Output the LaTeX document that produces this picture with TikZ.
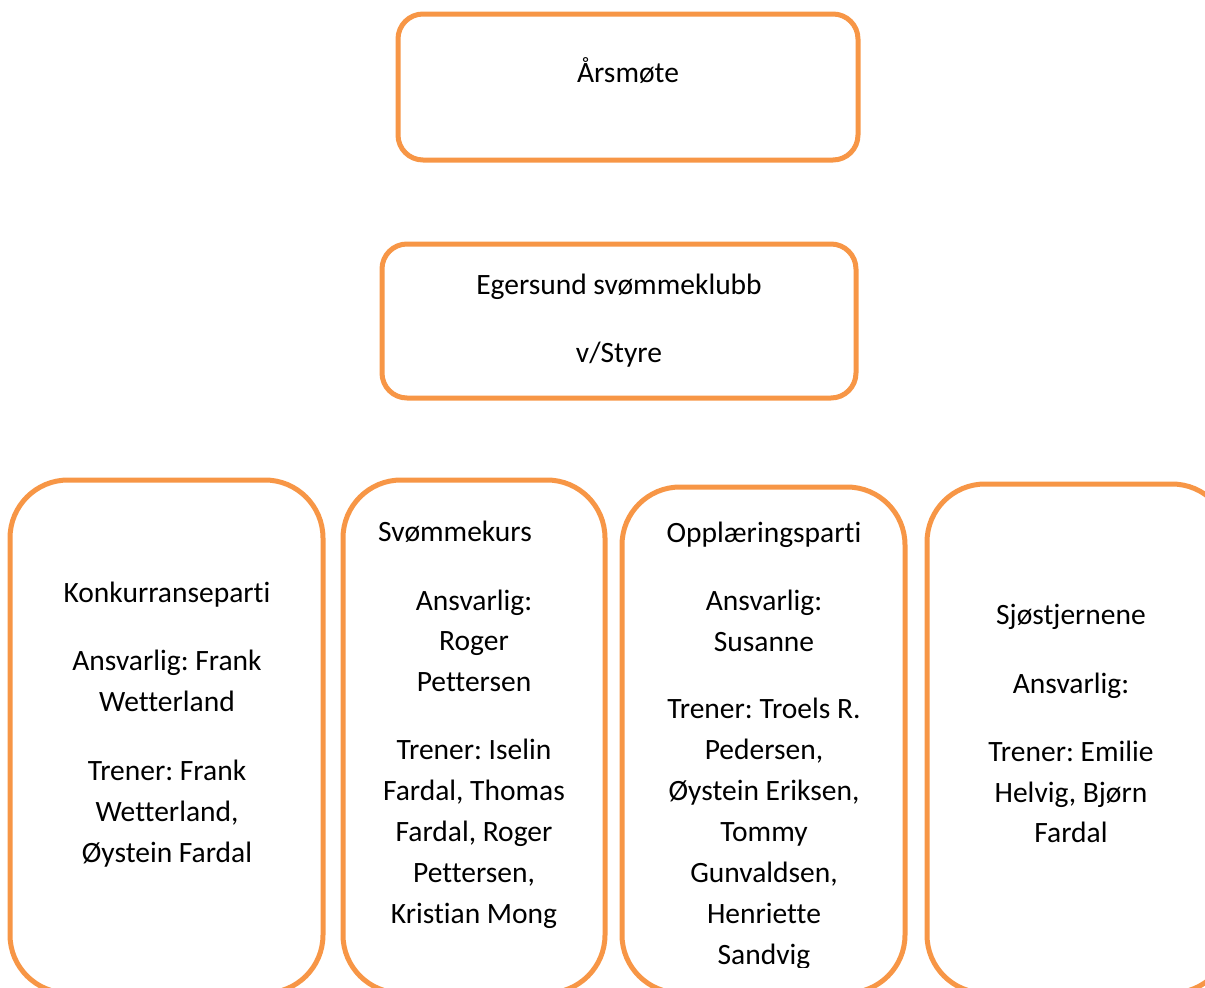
\documentclass[tikz,border=0pt]{standalone}
\usepackage{fontspec}
\setmainfont{Carlito}[Ligatures={NoCommon}]
\frenchspacing
\definecolor{boxorange}{HTML}{F79646}
\begin{document}
\begin{tikzpicture}[x=1pt,y=-1pt,
  box/.style={draw=boxorange,line width=5pt,fill=white,inner sep=0pt,outer sep=0pt},
  txt/.style={anchor=base,inner sep=0pt,font=\fontsize{29.5}{41}\selectfont,text=black}]
\useasboundingbox (0,0) rectangle (1205,988);
\clip (0,0) rectangle (1205,988);
% boxes
\node[box,rounded corners=25pt,minimum width=460pt,minimum height=146pt] (arsmote) at (628,87) {};
\node[box,rounded corners=25pt,minimum width=474pt,minimum height=154pt] (klubb) at (619,321) {};
\node[box,rounded corners=58pt,minimum width=313pt,minimum height=513pt] (konk) at (166.5,736.5) {};
\node[box,rounded corners=58pt,minimum width=262pt,minimum height=513pt] (kurs) at (474,736.5) {};
\node[box,rounded corners=58pt,minimum width=283pt,minimum height=506pt] (oppl) at (763.5,740) {};
\node[box,rounded corners=58pt,minimum width=303pt,minimum height=509pt] (sjo) at (1078.5,738.5) {};
% texts
\node[txt] (ta) at (628,82) {Årsmøte};
\node[txt] (tb1) at (619,294) {Egersund svømmeklubb};
\node[txt] (tb2) at (619,362) {v/Styre};
% Konkurranseparti
\node[txt] (k1) at (167,602) {Konkurranseparti};
\node[txt] (k2) at (167,670) {Ansvarlig: Frank};
\node[txt] (k3) at (167,711) {Wetterland};
\node[txt] (k4) at (167,780) {Trener: Frank};
\node[txt] (k5) at (167,821) {Wetterland,};
\node[txt] (k6) at (167,862) {Øystein Fardal};
% Svømmekurs
\node[txt] (s1) at (455,541) {Svømmekurs};
\node[txt] (s2) at (474,610) {Ansvarlig:};
\node[txt] (s3) at (474,650) {Roger};
\node[txt] (s4) at (474,691) {Pettersen};
\node[txt] (s5) at (474,759) {Trener: Iselin};
\node[txt] (s6) at (474,800) {Fardal, Thomas};
\node[txt] (s7) at (474,841) {Fardal, Roger};
\node[txt] (s8) at (474,882) {Pettersen,};
\node[txt] (s9) at (474,923) {Kristian Mong};
% Opplæringsparti
\node[txt] (o1) at (764,542) {Opplæringsparti};
\node[txt] (o2) at (764,610) {Ansvarlig:};
\node[txt] (o3) at (764,651) {Susanne};
\node[txt] (o4) at (764,718) {Trener: Troels R.};
\node[txt] (o5) at (764,759) {Pedersen,};
\node[txt] (o6) at (764,800) {Øystein Eriksen,};
\node[txt] (o7) at (764,841) {Tommy};
\node[txt] (o8) at (764,882) {Gunvaldsen,};
\node[txt] (o9) at (764,923) {Henriette};
\begin{scope}
\clip (640,900) rectangle (890,967);
\node[txt] (o10) at (764,964) {Sandvig};
\end{scope}
% Sjøstjernene
\node[txt] (j1) at (1071,624) {Sjøstjernene};
\node[txt] (j2) at (1071,693) {Ansvarlig:};
\node[txt] (j3) at (1071,761) {Trener: Emilie};
\node[txt] (j4) at (1071,802) {Helvig, Bjørn};
\node[txt] (j5) at (1071,842) {Fardal};
\end{tikzpicture}
\end{document}
